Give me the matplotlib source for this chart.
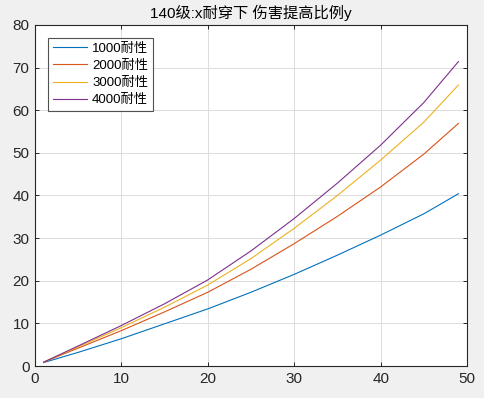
import matplotlib.pyplot as plt

plt.rcParams['font.family'] = ['Liberation Sans', 'Noto Sans CJK SC', 'DejaVu Sans']

# x penetration values where the curves were read
x = [1, 5, 10, 15, 20, 25, 30, 35, 40, 45, 49]

y1000 = [0.8, 3.2, 6.4, 9.9, 13.4, 17.3, 21.5, 26.0, 30.7, 35.7, 40.4]
y2000 = [0.9, 4.2, 8.3, 12.7, 17.3, 22.7, 28.7, 35.1, 42.0, 49.7, 56.9]
y3000 = [0.9, 4.5, 9.0, 13.8, 19.0, 25.2, 32.3, 40.0, 48.3, 57.2, 65.9]
y4000 = [0.9, 4.7, 9.5, 14.6, 20.2, 27.0, 34.6, 42.9, 51.8, 61.8, 71.4]

labels = ["1000耐性", "2000耐性", "3000耐性", "4000耐性"]
colors = ["#0072BD", "#D95319", "#EDB120", "#7E2F8E"]

fig = plt.figure(figsize=(4.84, 3.98), dpi=100, facecolor="#F0F0F0")
ax = fig.add_axes([0.0723, 0.0804, 0.8927, 0.857])

for ys, lab, c in zip([y1000, y2000, y3000, y4000], labels, colors):
    ax.plot(x, ys, color=c, lw=0.8, label=lab)

ax.set_xlim(0, 50)
ax.set_ylim(0, 80)
ax.set_xticks(range(0, 51, 10))
ax.set_yticks(range(0, 81, 10))
ax.grid(True, color="#DCDCDC", lw=0.7)
ax.tick_params(direction="in", top=True, right=True, labelsize=11,
               colors="#262626", length=3, width=0.7, pad=4)
for s in ax.spines.values():
    s.set_color("#262626")
    s.set_linewidth(0.8)

ax.set_title("140级:x耐穿下 伤害提高比例y", fontsize=11, color="#000000", pad=5)

leg = ax.legend(loc="upper left", fontsize=9.5, frameon=True, fancybox=False,
                edgecolor="#262626", handlelength=2.6, handletextpad=0.4,
                borderpad=0.35, labelspacing=0.38, borderaxespad=0,
                bbox_to_anchor=(0.03, 0.962))
leg.get_frame().set_linewidth(0.8)

plt.savefig("out.png", dpi=100, facecolor=fig.get_facecolor())
